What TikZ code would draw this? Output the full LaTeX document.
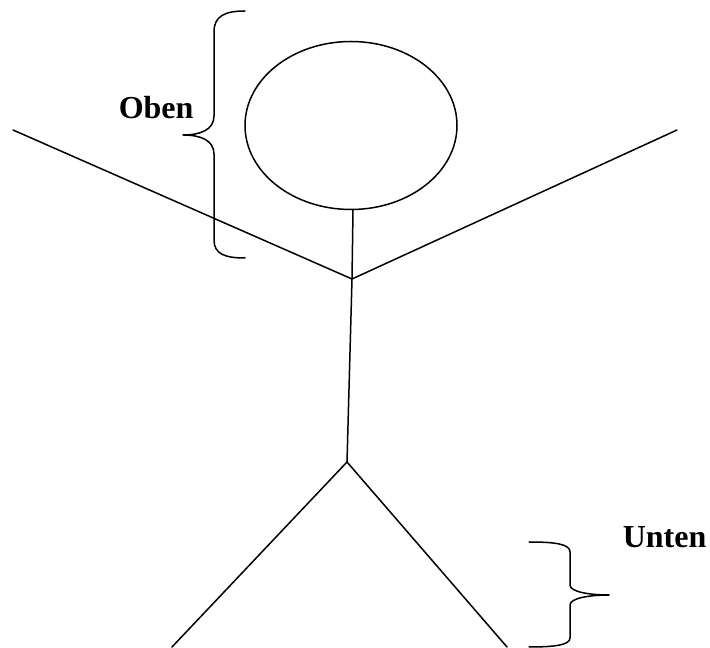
\documentclass[tikz,border=0pt]{standalone}
\usepackage{fontspec}
\setmainfont{Liberation Serif}
\begin{document}
\begin{tikzpicture}[x=1pt,y=1pt,line width=1.5pt,line join=round,line cap=round,
  lbl/.style={font=\fontsize{32}{32}\selectfont\bfseries,inner sep=0pt,anchor=base west}]
\useasboundingbox (0,0) rectangle (710,648);
\path
(351,522.5) coordinate (K)
(353,438) coordinate (N)
(352,369) coordinate (S)
(13,518) coordinate (L)
(677,518) coordinate (R)
(347,186) coordinate (H)
(172,1) coordinate (FL)
(507,1) coordinate (FR)
;
% Kopf, Rumpf, Arme, Beine
\draw (K) ellipse[x radius=106,y radius=84];
\draw (N)--(S)--(H);
\draw (L)--(S)--(R);
\draw (FL)--(H)--(FR);
% Klammern
\draw (245,637) .. controls (225,637) and (214,632) .. (214,616) -- (214,532)
  .. controls (214,518) and (200,513) .. (183,513)
  .. controls (200,513) and (214,508) .. (214,494) -- (214,408)
  .. controls (214,394) and (225,390) .. (245,390);
\draw (529,106) .. controls (555,106) and (570,104) .. (570,96) -- (570,63)
  .. controls (570,56) and (590,53) .. (609,53)
  .. controls (590,53) and (570,50) .. (570,43) -- (570,10)
  .. controls (570,3) and (555,1) .. (529,1);
\node[lbl] (oben) at (118,529) {Oben};
\node[lbl] (unten) at (622,100) {Unten};
\end{tikzpicture}
\end{document}
